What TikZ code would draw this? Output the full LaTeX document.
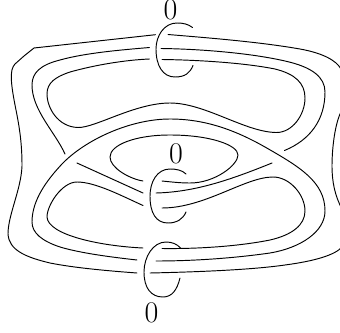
\documentclass[tikz,border=0pt]{standalone}
\usepackage{tikz}
\begin{document}
\begin{tikzpicture}[
		x=1pt, y=-1pt,
		strand/.style={line width=0.95pt, line cap=round},
		framing/.style={inner sep=0pt, font=\fontsize{30}{30}\selectfont}
	]
	\useasboundingbox (0,0) rectangle (340,332);
	\clip (0,0) rectangle (340,332);

	% Framing numbers
	\node[framing] (topzero) at (170.5,10.2) {0};
	\node[framing] (midzero) at (176,153.5) {0};
	\node[framing] (botzero) at (151.5,313) {0};

	% Outer strand
	\draw[strand] (155.5,34.7) -- (34,48) -- (24,56) -- (15,64)
		.. controls (9,70) and (11,85) .. (16,110)
		.. controls (20,130) and (22,145) .. (22,166)
		.. controls (21,190) and (8,215) .. (8,234)
		.. controls (9,250) and (25,257) .. (50,263)
		.. controls (75,268) and (110,271) .. (137,273);
	\draw[strand] (168,34.5) .. controls (210,38) and (260,42) .. (300,49)
		.. controls (322,53) and (336,60) .. (341,69);
	\draw[strand] (342,110) .. controls (335,122) and (332,148) .. (332,166)
		.. controls (332,182) and (335,196) .. (342,209);
	\draw[strand] (342,247) .. controls (335,255) and (315,261) .. (285,265)
		.. controls (250,270) and (195,272) .. (150,273);

	% Middle strand, top
	\draw[strand] (149.5,47.5) .. controls (120,50) and (85,53) .. (60,60)
		.. controls (40,65) and (32,73) .. (32,85)
		.. controls (32,110) and (55,132) .. (65,154);
	\draw[strand] (161,48.5) .. controls (200,49) and (250,53) .. (285,61)
		.. controls (312,67) and (325,77) .. (325,92)
		.. controls (325,120) and (310,140) .. (284.5,150.5);

	% Inner loop, top
	\draw[strand] (149.5,59) .. controls (125,60) and (95,65) .. (70,72)
		.. controls (55,77) and (47,83) .. (47,94)
		.. controls (47,108) and (58,127) .. (78,127.5)
		.. controls (95,128) and (135,103) .. (170,103)
		.. controls (205,103) and (245,132) .. (276,132.5)
		.. controls (292,133) and (305,115) .. (305,98)
		.. controls (305,83) and (295,74) .. (275,69)
		.. controls (245,63) and (200,60) .. (162,59.5);

	% Large arc
	\draw[strand] (137,260) .. controls (110,257) and (80,253) .. (60,247)
		.. controls (42,241) and (32,233) .. (32,222)
		.. controls (32,200) and (47,180) .. (62,164)
		.. controls (85,140) and (130,119) .. (170,119)
		.. controls (205,119) and (235,130) .. (265,147)
		.. controls (300,167) and (325,182) .. (325,211)
		.. controls (325,232) and (300,248) .. (270,253)
		.. controls (235,258) and (195,261) .. (156,261);

	% Small loop, centre
	\draw[strand] (143,181) .. controls (130,179) and (110,168) .. (110,157)
		.. controls (110,145) and (135,135) .. (170,135)
		.. controls (210,135) and (238,145) .. (238,155)
		.. controls (238,165) and (215,183) .. (190,183)
		.. controls (180,183) and (172,182) .. (162,181);

	% Crossing strands, centre
	\draw[strand] (77,163) -- (143,193);
	\draw[strand] (156,193) .. controls (195,192) and (230,180) .. (272,163);

	% Lower loop
	\draw[strand] (143,205.5) .. controls (120,195) and (95,182) .. (77,182)
		.. controls (62,182) and (47,205) .. (47,217)
		.. controls (48,235) and (100,246) .. (143,248);
	\draw[strand] (162,208) .. controls (205,208) and (245,177) .. (273,177)
		.. controls (290,177) and (305,195) .. (305,211)
		.. controls (305,225) and (292,235) .. (270,240)
		.. controls (240,246) and (200,249) .. (162,248.5);

	% Clasps
	\draw[strand] (192.5,27.5) .. controls (188,24) and (183,23) .. (177,23)
		.. controls (164,23) and (156,36) .. (156,49)
		.. controls (156,66) and (163,77) .. (175,77)
		.. controls (185,77) and (190,73) .. (193,65.5);
	\draw[strand] (186,174) .. controls (182,170) and (176,169) .. (170,169)
		.. controls (157,169) and (150,182) .. (150,196)
		.. controls (150,213) and (156,223) .. (168,223)
		.. controls (177,223) and (183,219) .. (186,212);
	\draw[strand] (180.5,248) .. controls (177,244) and (172,242) .. (166,242)
		.. controls (153,242) and (144,257) .. (144,272)
		.. controls (144,288) and (151,297) .. (163,297)
		.. controls (172,297) and (177,290) .. (180,278);
\end{tikzpicture}
\end{document}
